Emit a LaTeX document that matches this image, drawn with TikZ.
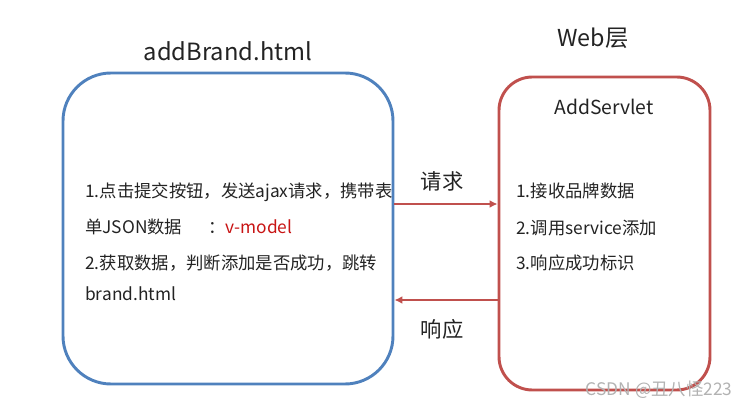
\documentclass[tikz,border=0pt]{standalone}
\usepackage{fontspec}
\setmainfont{Noto Sans CJK SC}
\usepackage{tikz}
\usepackage{xcolor}
\usetikzlibrary{arrows.meta}
\definecolor{boxblue}{RGB}{79,129,189}
\definecolor{boxred}{RGB}{192,80,77}
\definecolor{txtgray}{RGB}{35,35,35}
\definecolor{vred}{RGB}{200,20,20}

\begin{document}
\begin{tikzpicture}[x=0.75pt,y=-0.75pt,
  every node/.style={text=txtgray,inner sep=0pt},
  panel/.style={draw,line width=2.2pt,rounded corners=#1},
  flow/.style={draw=boxred,line width=1.8pt,-{Latex[length=6pt,width=6pt]}},
  item/.style={anchor=west,font=\fontsize{13}{16}\selectfont}]
\useasboundingbox (0,0) rectangle (750,410);

\node[panel=36pt,draw=boxblue,minimum width=247.5pt,minimum height=233.25pt] (page) at (228,228.5) {};
\node[panel=25pt,draw=boxred,minimum width=158.25pt,minimum height=234.75pt] (servlet) at (604.5,233.5) {};

\node[font=\fontsize{17.8}{21}\selectfont] (pagetitle) at (228,51) {addBrand.html};
\node[font=\fontsize{17.5}{21}\selectfont] (webtitle) at (593,38) {Web层};
\node[font=\fontsize{14.5}{17}\selectfont] (servlettitle) at (604,107) {AddServlet};

\node[item] (p1) at (85,192) {1.点击提交按钮，发送ajax请求，携带表};
\node[item] (p2) at (85,227) {单JSON数据\hspace{1.5em}：\textcolor{vred}{v-model}};
\node[item] (p3) at (85,263) {2.获取数据，判断添加是否成功，跳转};
\node[item] (p4) at (85,294) {brand.html};

\node[item] (s1) at (516,191) {1.接收品牌数据};
\node[item] (s2) at (516,228) {2.调用service添加};
\node[item] (s3) at (516,263) {3.响应成功标识};

\draw[flow] (page.east |- 0,204) -- (servlet.west |- 0,204);
\draw[flow] (servlet.west |- 0,300) -- (page.east |- 0,300);
\node[font=\fontsize{16}{19}\selectfont] (ask) at (442,181) {请求};
\node[font=\fontsize{16}{19}\selectfont] (answer) at (442,329) {响应};

\node[text=gray!60,font=\fontsize{13}{15}\selectfont] (mark) at (659,390) {CSDN @丑八怪223};
\end{tikzpicture}
\end{document}
